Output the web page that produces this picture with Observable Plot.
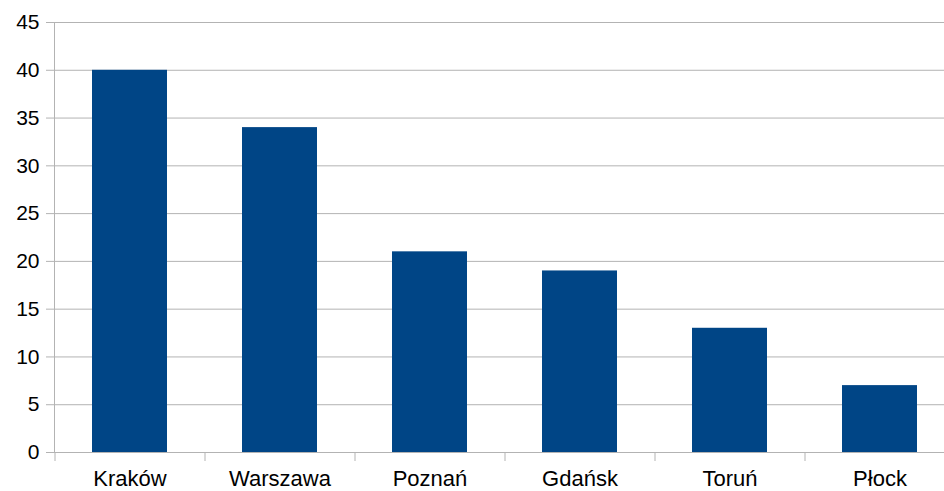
<!DOCTYPE html>
<html>
<head>
<meta charset="utf-8">
<script src="https://cdn.jsdelivr.net/npm/d3@7"></script>
<script src="https://cdn.jsdelivr.net/npm/@observablehq/plot@0.6"></script>
<style>
  html, body { margin: 0; padding: 0; background: #fff; overflow: hidden; }
</style>
</head>
<body>
<div id="chart"></div>
<script>
const cities = ["Kraków", "Warszawa", "Poznań", "Gdańsk", "Toruń", "Płock"];
const counts = [40, 34, 21, 19, 13, 7];
const yTicks = [0, 5, 10, 15, 20, 25, 30, 35, 40, 45];

const data = cities.map((c, i) => ({city: c, value: counts[i]}));
const gridColor = "#b3b3b3";

const chart = Plot.plot({
  width: 944,
  height: 491,
  marginLeft: 54,
  marginRight: 0,
  marginTop: 22,
  marginBottom: 39,
  style: {fontFamily: "'Liberation Sans', Arial, sans-serif", fontSize: "21px", color: "#000", background: "#fff"},
  x: {domain: cities, range: [54, 954], paddingInner: 0.5, paddingOuter: 0.25, label: null},
  y: {domain: [0, 45], label: null},
  marks: [
    Plot.gridY(yTicks, {stroke: gridColor, strokeOpacity: 1}),
    Plot.frame({anchor: "left", stroke: gridColor}),
    Plot.barY(data, {x: "city", y: "value", fill: "#004586"}),
    Plot.axisY(yTicks, {tickSize: 8, tickPadding: 7, stroke: gridColor, fill: "#000", fontSize: 21, label: null, tickFormat: d => String(d)}),
    Plot.axisX({tickSize: 9, dx: -75, stroke: gridColor, tickFormat: () => "", label: null}),
    Plot.axisX({tickSize: 0, tickPadding: 18, fill: "#000", fontSize: 22, label: null})
  ]
});
document.getElementById("chart").appendChild(chart);
</script>
</body>
</html>
